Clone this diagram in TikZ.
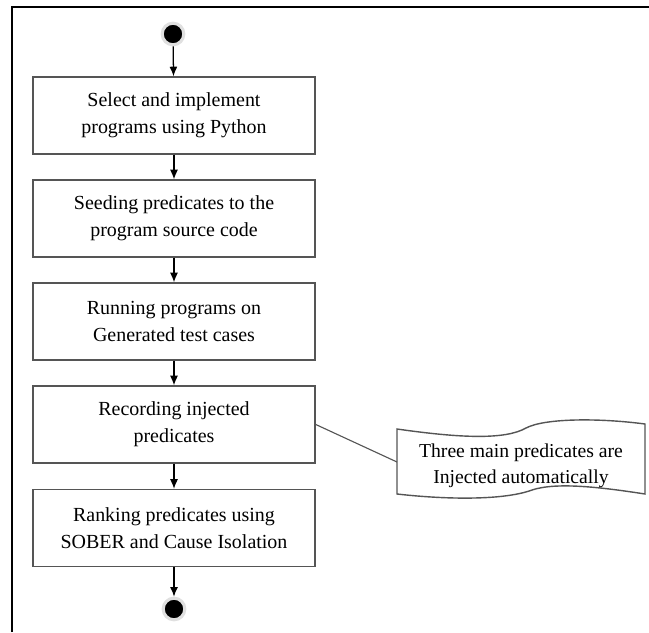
\documentclass[tikz,border=0pt]{standalone}
\usepackage{fontspec}
\setmainfont{Liberation Serif}
\usepackage{tikz}
\usetikzlibrary{
  positioning, calc, shapes, arrows, arrows.meta
}
\definecolor{boxgray}{HTML}{555555}
\tikzset{
	stepnode/.style={
			rectangle,
			draw=boxgray,
			line width=1.1pt,
			fill=white,
			minimum width=7.05cm,
			minimum height=1.92cm,
			align=center,
			inner sep=0pt,
			font=\fontsize{14.2}{19.2}\selectfont
		},
	startnode/.style={
			circle,
			draw=black!12,
			line width=2.2pt,
			fill=black,
			minimum size=5.4mm,
			inner sep=0pt
		},
	notenode/.style={
			align=center,
			inner sep=0pt,
			font=\fontsize{14}{18.5}\selectfont
		}
}
\tikzset{
	flowarrow/.style={line width=0.9pt, -{Latex[length=2.4mm, width=2mm]}}
}

\begin{document}
\begin{tikzpicture}[x=0.025cm, y=-0.025cm]
\useasboundingbox (0,0) rectangle (649,632);

% frame
\draw[line width=1.2pt] (12,632) -- (12,7) -- (649,7);

\node[startnode] (start) at (173,34) {};
\node[stepnode] (n1) at (174,115.5) {Select and implement\\programs using Python};
\node[stepnode] (n2) at (174,218.5) {Seeding predicates to the\\program source code};
\node[stepnode] (n3) at (174,321.5) {Running programs on\\Generated test cases};
\node[stepnode] (n4) at (174,424.5) {Recording injected\\predicates};
\node[stepnode] (n5) at (174,528) {Ranking predicates using\\SOBER and Cause Isolation};
\node[startnode] (end) at (174,609) {};

\draw[flowarrow] (start) -- (n1);
\draw[flowarrow] (n1) -- (n2);
\draw[flowarrow] (n2) -- (n3);
\draw[flowarrow] (n3) -- (n4);
\draw[flowarrow] (n4) -- (n5);
\draw[flowarrow] (n5) -- (end);

% note
\draw[draw=boxgray, line width=1pt, fill=white]
  (397,429) .. controls (460,438) and (505,440) .. (526,428)
  .. controls (545,418) and (600,418) .. (645,424)
  -- (645,494)
  .. controls (600,487) and (556,482) .. (532,490)
  .. controls (505,500) and (450,500) .. (397,494) -- cycle;
\node[notenode] (note) at (521,466) {Three main predicates are\\Injected automatically};
\coordinate (tip) at (397,462);
\draw[draw=boxgray, line width=0.8pt] (n4.east) -- (tip);
\end{tikzpicture}
\end{document}
